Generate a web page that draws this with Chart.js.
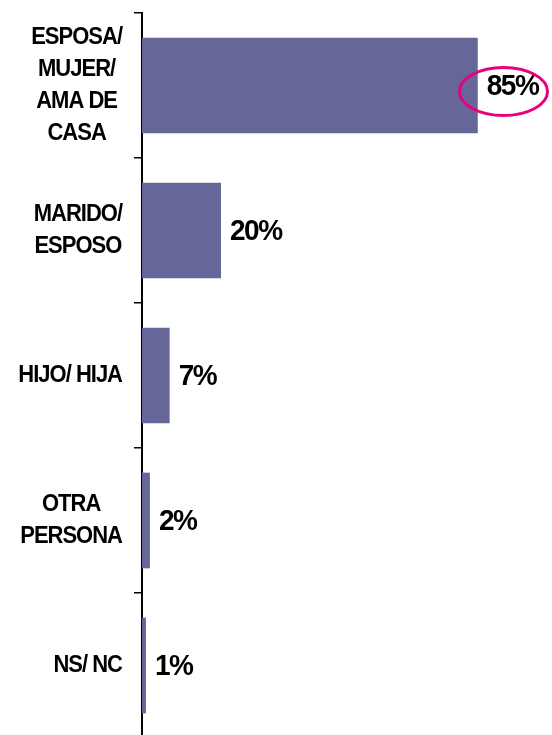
<!DOCTYPE html>
<html lang="es">
<head>
    <meta charset="UTF-8">
    <title>Responsable</title>
    <style>
        html, body {
            margin: 0;
            padding: 0;
            background: #fff;
            overflow: hidden;
        }

        #wrap {
            width: 552px;
            height: 740px;
            position: relative;
        }
    </style>
    <script src="https://cdn.jsdelivr.net/npm/chart.js@4/dist/chart.umd.min.js"></script>
</head>
<body>
    <div id="wrap">
        <canvas id="chart"></canvas>
    </div>

    <script>
        const categories = [
            ["ESPOSA/", "MUJER/", "AMA DE", "CASA"],
            ["MARIDO/", "ESPOSO"],
            ["HIJO/ HIJA"],
            ["OTRA", "PERSONA"],
            ["NS/ NC"]
        ];
        const values = [85, 20, 7, 2, 1];
        const valueLabels = ["85%", "20%", "7%", "2%", "1%"];
        const highlighted = [0];

        const FONT = "'Liberation Sans', Arial, sans-serif";
        const STRETCH = 1.06; // the original text is a bit taller than plain Arial

        function tallText(ctx, text, x, y) {
            ctx.save();
            ctx.translate(x, y);
            ctx.scale(1, STRETCH);
            ctx.fillText(text, 0, 0);
            ctx.restore();
        }

        // category labels: block right-aligned, each line centred in the block
        const categoryLabels = {
            id: "categoryLabels",
            afterDraw(chart) {
                const ctx = chart.ctx;
                const y = chart.scales.y;
                const right = y.right - 20;
                const lineH = 32;
                ctx.save();
                ctx.font = "bold 22px " + FONT;
                ctx.letterSpacing = "-1px";
                ctx.fillStyle = "#000";
                ctx.textAlign = "center";
                ctx.textBaseline = "middle";
                categories.forEach((lines, i) => {
                    const cy = y.getPixelForValue(i);
                    const w = Math.max(...lines.map(l => ctx.measureText(l).width));
                    const cx = right - w / 2;
                    const top = cy - (lines.length - 1) * lineH / 2;
                    lines.forEach((l, j) => tallText(ctx, l, cx, top + j * lineH));
                });
                ctx.restore();
            }
        };

        // value labels and the circled one
        const valueText = {
            id: "valueText",
            afterDatasetsDraw(chart) {
                const ctx = chart.ctx;
                const bars = chart.getDatasetMeta(0).data;
                ctx.save();
                ctx.font = "bold 28px " + FONT;
                ctx.letterSpacing = "-1.5px";
                ctx.fillStyle = "#000";
                ctx.textAlign = "left";
                ctx.textBaseline = "middle";
                bars.forEach((bar, i) => {
                    const tx = bar.x + 9;
                    tallText(ctx, valueLabels[i], tx, bar.y + 1);
                    if (highlighted.includes(i)) {
                        const w = ctx.measureText(valueLabels[i]).width;
                        ctx.beginPath();
                        ctx.ellipse(tx + w / 2 - 9, bar.y + 6, 44, 24, 0, 0, Math.PI * 2);
                        ctx.strokeStyle = "#E8007F";
                        ctx.lineWidth = 3;
                        ctx.stroke();
                    }
                });
                ctx.restore();
            }
        };

        new Chart(document.getElementById("chart"), {
            type: "bar",
            data: {
                labels: categories,
                datasets: [{
                    data: values,
                    backgroundColor: "#666699",
                    borderWidth: 0,
                    categoryPercentage: 1,
                    barPercentage: 0.66
                }]
            },
            options: {
                indexAxis: "y",
                responsive: true,
                maintainAspectRatio: false,
                animation: false,
                layout: {
                    padding: { top: 13, bottom: 2, right: 15, left: 0 }
                },
                plugins: {
                    legend: { display: false },
                    tooltip: { enabled: false }
                },
                scales: {
                    x: {
                        display: false,
                        min: 0,
                        max: 100
                    },
                    y: {
                        afterFit(scale) {
                            scale.width = 142;
                        },
                        ticks: { display: false },
                        grid: {
                            offset: true,
                            drawOnChartArea: false,
                            drawTicks: true,
                            tickLength: 8,
                            color: "#000",
                            lineWidth: 1.5
                        },
                        border: {
                            display: true,
                            color: "#000",
                            width: 2
                        }
                    }
                }
            },
            plugins: [categoryLabels, valueText]
        });
    </script>
</body>
</html>
